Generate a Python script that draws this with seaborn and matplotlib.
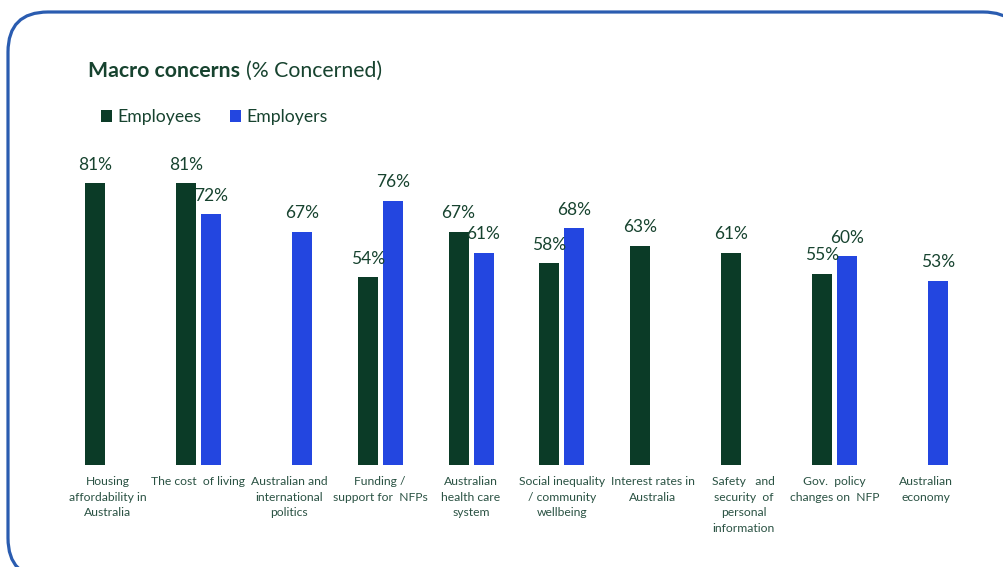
import matplotlib
matplotlib.use("Agg")
import matplotlib.pyplot as plt
from matplotlib.patches import FancyBboxPatch, Rectangle
import numpy as np
import pandas as pd
import seaborn as sns

# Concern categories (wrapped for the axis) and the share concerned per group
categories = [
    "Housing\naffordability in\nAustralia",
    "The cost  of living",
    "Australian and\ninternational\npolitics",
    "Funding /\nsupport for  NFPs",
    "Australian\nhealth care\nsystem",
    "Social inequality\n/ community\nwellbeing",
    "Interest rates in\nAustralia",
    "Safety   and\nsecurity  of\npersonal\ninformation",
    "Gov.  policy\nchanges on  NFP",
    "Australian\neconomy",
]
employees = [81, 81, np.nan, 54, 67, 58, 63, 61, 55, np.nan]
employers = [np.nan, 72, 67, 76, 61, 68, np.nan, np.nan, 60, 53]
groups = ["Employees", "Employers"]

GREEN = "#0b3b27"
BLUE = "#2346e0"
TEXT = "#17432f"
TICK = "#2a5243"
BORDER = "#2a5cb0"

df = pd.DataFrame({
    "concern": categories * 2,
    "group": [groups[0]] * len(categories) + [groups[1]] * len(categories),
    "value": employees + employers,
})

sns.set_theme(style="white")
plt.rcParams["font.family"] = ["Lato", "DejaVu Sans"]

W, H = 1004, 567
fig = plt.figure(figsize=(W / 100, H / 100), dpi=100)

# Background frame with rounded corners, drawn in pixel units
bg = fig.add_axes([0, 0, 1, 1])
bg.set_xlim(0, W)
bg.set_ylim(H, 0)
bg.axis("off")
bg.add_patch(FancyBboxPatch((8, 12), 1015, 566,
                            boxstyle="round,pad=0,rounding_size=40",
                            facecolor="white", edgecolor=BORDER, linewidth=2.3))

# Bar chart area
ax = fig.add_axes([62 / W, (H - 465) / H, 909 / W, 348 / H])
ax.patch.set_alpha(0)
sns.barplot(data=df, x="concern", y="value", hue="group", order=categories,
            hue_order=groups, palette=[GREEN, BLUE], saturation=1,
            width=0.55, gap=0.2, errorbar=None, linewidth=0, ax=ax, legend=False)

for cont in ax.containers:
    ax.bar_label(cont, fmt="{:.0f}%", padding=7.5, fontsize=12.5, color=TEXT)

ax.set_ylim(0, 100)
ax.set_xlim(-0.5, len(categories) - 0.5)
ax.set_xlabel("")
ax.set_ylabel("")
ax.set_yticks([])
sns.despine(ax=ax, left=True, bottom=True)
ax.tick_params(axis="x", length=0, pad=8, labelsize=8.7, labelcolor=TICK)
for lbl in ax.get_xticklabels():
    lbl.set_linespacing(1.5)
    lbl.set_verticalalignment("top")

# Title: bold lead followed by regular qualifier
t1 = fig.text(88 / W, 1 - 77 / H, "Macro concerns", fontsize=15.3, fontweight="bold",
              color=TEXT, va="baseline", ha="left")
fig.canvas.draw()
ext = t1.get_window_extent(renderer=fig.canvas.get_renderer())
fig.text(ext.x1 / W + 6 / W, 1 - 77 / H, "(% Concerned)", fontsize=15.3,
         color=TEXT, va="baseline", ha="left")

# Legend
handles = [Rectangle((0, 0), 1, 1, facecolor=c, edgecolor="none") for c in (GREEN, BLUE)]
fig.legend(handles, groups, loc="upper left", bbox_to_anchor=(101 / W, 1 - 109 / H),
           ncol=2, frameon=False, fontsize=12.7, handlelength=0.62, handleheight=0.62,
           handletextpad=0.3, columnspacing=1.65, borderpad=0, borderaxespad=0,
           labelcolor=TEXT)

fig.savefig("out.png", dpi=100)
